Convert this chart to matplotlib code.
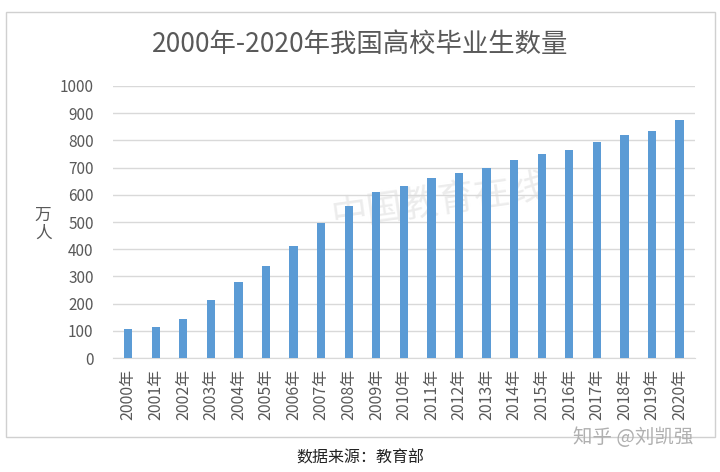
import matplotlib.pyplot as plt
from matplotlib.patches import Rectangle

plt.rcParams['font.family'] = ['Noto Sans CJK SC', 'DejaVu Sans']

# 数据：2000-2020年高校毕业生数量（万人）
years = [str(y) + "年" for y in range(2000, 2021)]
graduates = [107, 114, 145, 212, 280, 338, 413, 495, 559, 611, 631,
             660, 680, 699, 727, 749, 765, 795, 820, 834, 874]
yticks = [0, 100, 200, 300, 400, 500, 600, 700, 800, 900, 1000]

fig = plt.figure(figsize=(7.2, 4.72), dpi=100)
ax = fig.add_axes([0.157, 0.2415, 0.808, 0.5763])

x = range(len(years))
ax.bar(x, graduates, width=0.3, color="#5b9bd5", zorder=3)

ax.set_xlim(-0.55, len(years) - 0.45)
ax.set_ylim(0, 1000)
ax.set_yticks(yticks)
ax.set_xticks(list(x))
ax.set_xticklabels(years, rotation=90)
ax.tick_params(axis="y", length=0, pad=14, labelsize=11, labelcolor="#595959")
ax.tick_params(axis="x", length=0, pad=8, labelsize=11.5, labelcolor="#595959")
ax.grid(axis="y", color="#d9d9d9", linewidth=1, zorder=0)
for s in ["left", "right", "top"]:
    ax.spines[s].set_visible(False)
ax.spines["bottom"].set_color("#d9d9d9")

# 水印（在柱子后面）
ax.text(0.56, 0.57, "中国教育在线", transform=ax.transAxes, ha="center", va="center",
        fontsize=26, color="#ececec", rotation=8, zorder=1)

# 标题和坐标轴单位
fig.text(0.5, 0.905, "2000年-2020年我国高校毕业生数量", ha="center", va="center",
         fontsize=19, color="#595959")
fig.text(0.06, 0.525, "万\n人", ha="center", va="center", fontsize=12,
         color="#595959", linespacing=1.1)

# 外框
fig.patches.append(Rectangle((0.0083, 0.0742), 0.985, 0.9004, transform=fig.transFigure,
                             fill=False, edgecolor="#d0d0d0", linewidth=1))

fig.text(0.5, 0.03, "数据来源：教育部", ha="center", va="center", fontsize=11.5,
         color="#222222")
fig.text(0.88, 0.074, "知乎 @刘凯强", ha="center", va="center", fontsize=14,
         color="#b0b0b0")

fig.savefig("out.png", dpi=100, facecolor="white")
